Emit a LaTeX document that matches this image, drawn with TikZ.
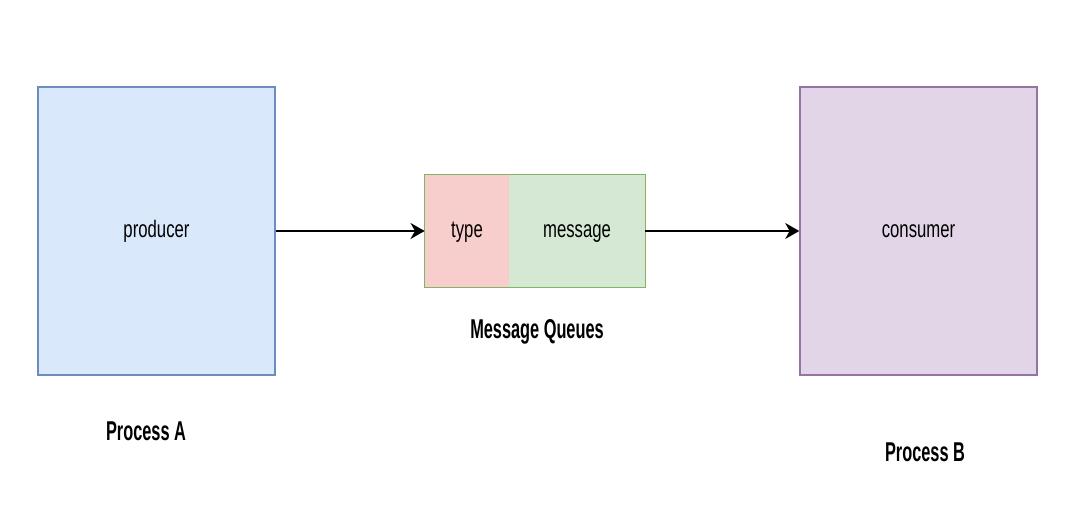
\documentclass[tikz,border=0pt]{standalone}
\usepackage{fontspec}
\setmainfont{Liberation Sans}[FakeStretch=0.7]
\newfontfamily\titlefont{Liberation Sans}[FakeStretch=0.6]
\usetikzlibrary{arrows.meta}
\definecolor{blueFill}{HTML}{DAE8FC}
\definecolor{blueLine}{HTML}{6C8EBF}
\definecolor{purpleFill}{HTML}{E1D5E7}
\definecolor{purpleLine}{HTML}{9673A6}
\definecolor{redFill}{HTML}{F8CECC}
\definecolor{greenFill}{HTML}{D5E8D4}
\definecolor{greenLine}{HTML}{82B366}
\begin{document}
\begin{tikzpicture}[x=0.02cm, y=-0.02cm,
  proc/.style={rectangle, line width=0.8pt, minimum width=4.74cm, minimum height=5.76cm, text height=0.75em, text depth=0pt, font=\fontsize{13.6}{16}\selectfont},
  cell/.style={rectangle, minimum height=2.24cm, inner sep=0pt, text height=0.75em, text depth=0pt, font=\fontsize{13.6}{16}\selectfont},
  title/.style={font=\titlefont\bfseries\fontsize{15.5}{18}\selectfont},
  flow/.style={line width=1.4pt, -{Stealth[length=8pt, width=9pt, inset=2.5pt]}}]
\useasboundingbox (0,0) rectangle (1072,527);
\node[proc, fill=blueFill, draw=blueLine] (procA) at (156.5,231){producer};
\node[proc, fill=purpleFill, draw=purpleLine] (procB) at (918.5,231){consumer};
\node[cell, fill=redFill, minimum width=1.68cm] (qtype) at (467,231){type};
\node[cell, fill=greenFill, minimum width=2.72cm] (qmsg) at (577,231){message};
\draw[greenLine, line width=0.8pt] (qtype.south west) rectangle (qmsg.north east);
\node[title] (qlabel) at (537,332){Message Queues};
\node[title] (labelA) at (146,431){Process A};
\node[title] (labelB) at (925,452){Process B};
\draw[flow](procA) -- (qtype);
\draw[flow](qmsg) -- (procB);
\end{tikzpicture}
\end{document}
